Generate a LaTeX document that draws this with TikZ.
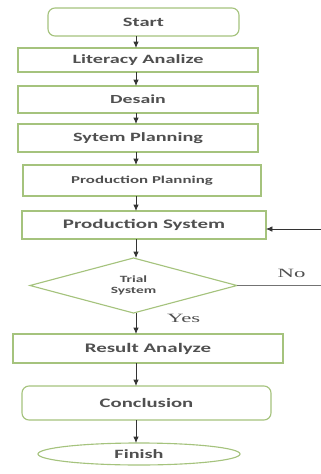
\documentclass[tikz,border=0pt]{standalone}
\usepackage{fontspec}
\setmainfont{Carlito}[FakeStretch=1.6]
\newfontfamily\notefont{Liberation Serif}[FakeStretch=1.8]
\usepackage{xcolor}
\usetikzlibrary{
    positioning,
    arrows.meta,
    shapes.geometric
}

\definecolor{boxgreen}{RGB}{165,195,125}
\definecolor{inkgray}{RGB}{80,80,80}

\begin{document}
\begin{tikzpicture}[
    node distance=0.3cm,
    box/.style={
        rectangle,
        draw=boxgreen,
        line width=0.8pt,
        fill=white,
        align=center,
        text=inkgray,
        font=\bfseries\fontsize{9}{11}\selectfont,
        inner sep=0pt,
        outer sep=0pt
    },
    roundbox/.style={box, rounded corners=5pt},
    decision/.style={box, diamond, aspect=3.76},
    terminal/.style={box, ellipse},
    arrow/.style={-{Latex[length=1.6mm,width=1.4mm]}, line width=0.6pt, draw=black!80},
    line/.style={line width=0.5pt, draw=black!55},
    note/.style={font=\notefont\fontsize{9}{10}\selectfont, text=inkgray}
]
\useasboundingbox (0,0) rectangle (8.025,-11.85);

\coordinate (axis) at (3.4,0);
\coordinate (edge) at (8.025,0);

\node[roundbox, minimum width=4.775cm, minimum height=0.7cm,
      font=\bfseries\fontsize{9.1}{11}\selectfont] (start) at (3.5875,-0.55) {Start};
\node[box, minimum width=6cm, minimum height=0.6cm,
      below=0.3cm of start, xshift=-0.1375cm] (literacy) {Literacy Analize};
\node[box, minimum width=6cm, minimum height=0.675cm,
      font=\bfseries\fontsize{8.8}{11}\selectfont,
      below=0.35cm of literacy] (desain) {Desain};
\node[box, minimum width=6cm, minimum height=0.7cm,
      below=0.275cm of desain] (sysplan) {Sytem Planning};
\node[box, minimum width=5.95cm, minimum height=0.775cm,
      font=\bfseries\fontsize{7.5}{9}\selectfont,
      below=0.325cm of sysplan, xshift=0.1cm] (prodplan) {Production Planning};
\node[box, minimum width=6.1cm, minimum height=0.7cm,
      font=\bfseries\fontsize{9.3}{11}\selectfont,
      below=0.375cm of prodplan, xshift=0.05cm] (prodsys) {Production System};
\node[decision, minimum width=5.175cm, minimum height=1.375cm,
      font=\bfseries\fontsize{6.8}{8}\selectfont,
      below=0.475cm of prodsys, xshift=-0.2625cm] (trial) {Trial\\System};
\node[box, minimum width=6.75cm, minimum height=0.725cm,
      font=\bfseries\fontsize{9.3}{11}\selectfont,
      below=0.525cm of trial, xshift=0.3625cm] (result) {Result Analyze};
\node[roundbox, minimum width=6.225cm, minimum height=0.85cm,
      font=\bfseries\fontsize{9.2}{11}\selectfont,
      below=0.575cm of result, xshift=-0.0375cm] (conclusion) {Conclusion};
\node[terminal, minimum width=5.05cm, minimum height=0.55cm,
      below=0.575cm of conclusion, xshift=-0.1875cm] (finish) {Finish};

\draw[arrow] (start.south -| axis) -- (literacy.north -| axis);
\draw[arrow] (literacy.south -| axis) -- (desain.north -| axis);
\draw[arrow] (desain.south -| axis) -- (sysplan.north -| axis);
\draw[arrow] (sysplan.south -| axis) -- (prodplan.north -| axis);
\draw[arrow] (prodplan.south -| axis) -- (prodsys.north -| axis);
\draw[arrow] (prodsys.south -| axis) -- (trial.north -| axis);
\draw[arrow] (trial.south -| axis) -- node[note, pos=0.24, right=0.65cm] {Yes} (result.north -| axis);
\draw[arrow] (result.south -| axis) -- (conclusion.north -| axis);
\draw[arrow] (conclusion.south -| axis) -- (finish.north -| axis);

\coordinate (noend) at (trial.east -| edge);
\coordinate (backin) at (8.025,-5.725);
\draw[line] (trial.east) -- node[note, pos=0.65, above=2pt] {No} (noend);
\draw[arrow, line width=0.5pt] (backin) -- (prodsys.east |- backin);

\end{tikzpicture}
\end{document}
